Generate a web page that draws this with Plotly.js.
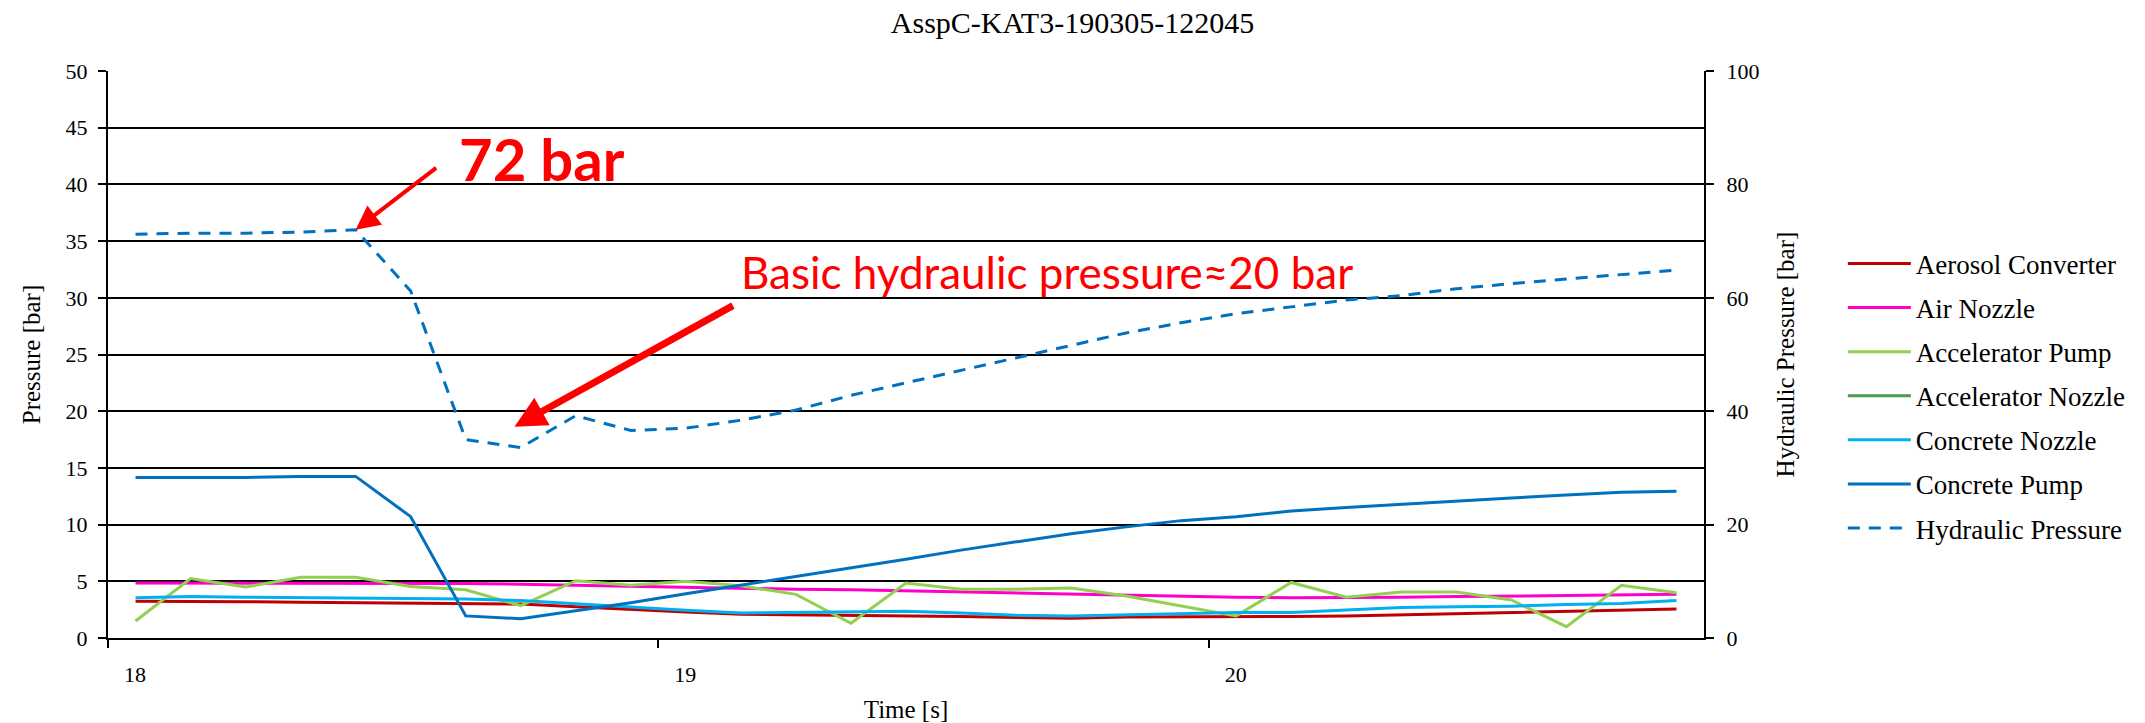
<!DOCTYPE html>
<html>
<head>
<meta charset="utf-8">
<script src="https://cdn.plot.ly/plotly-3.0.1.min.js"></script>
<style>
  html, body { margin: 0; padding: 0; background: #ffffff; }
  #chart { width: 2145px; height: 723px; }
</style>
</head>
<body>
<div id="chart"></div>
<script>
// Sample times [s]
const time = [18.0, 18.1, 18.2, 18.3, 18.4, 18.5, 18.6, 18.7, 18.8, 18.9,
              19.0, 19.1, 19.2, 19.3, 19.4, 19.5, 19.6, 19.7, 19.8, 19.9,
              20.0, 20.1, 20.2, 20.3, 20.4, 20.5, 20.6, 20.7, 20.8];

// Pressures on the left axis [bar]
const aerosolConverter = [3.25, 3.25, 3.2, 3.15, 3.1, 3.05, 3.0, 3.0, 2.75, 2.5,
                          2.3, 2.1, 2.05, 2.05, 2.0, 1.9, 1.8, 1.75, 1.85, 1.85,
                          1.85, 1.9, 1.95, 2.05, 2.15, 2.25, 2.35, 2.45, 2.55];
const airNozzle = [4.85, 4.85, 4.85, 4.85, 4.85, 4.8, 4.8, 4.75, 4.65, 4.55,
                   4.45, 4.4, 4.3, 4.25, 4.15, 4.05, 3.95, 3.85, 3.8, 3.7,
                   3.6, 3.55, 3.55, 3.6, 3.65, 3.7, 3.75, 3.8, 3.85];
const acceleratorPump = [1.5, 5.25, 4.5, 5.35, 5.35, 4.55, 4.25, 2.85, 5.05, 4.65,
                         5.0, 4.6, 3.85, 1.3, 4.85, 4.3, 4.3, 4.4, 3.7, 2.8,
                         1.95, 4.9, 3.6, 4.05, 4.05, 3.35, 1.0, 4.65, 4.0];
// No readings were logged for the accelerator nozzle in this run
const acceleratorNozzle = [null, null, null, null, null, null, null, null, null, null,
                           null, null, null, null, null, null, null, null, null, null,
                           null, null, null, null, null, null, null, null, null];
const concreteNozzle = [3.55, 3.65, 3.6, 3.55, 3.5, 3.45, 3.45, 3.3, 3.0, 2.7,
                        2.45, 2.2, 2.25, 2.3, 2.35, 2.2, 2.0, 1.95, 2.05, 2.2,
                        2.25, 2.25, 2.5, 2.7, 2.75, 2.8, 2.95, 3.05, 3.3];
const concretePump = [14.15, 14.15, 14.15, 14.25, 14.25, 10.7, 1.95, 1.7, 2.4, 3.1,
                      3.9, 4.65, 5.4, 6.15, 6.95, 7.75, 8.5, 9.2, 9.8, 10.35,
                      10.7, 11.2, 11.5, 11.8, 12.05, 12.35, 12.6, 12.85, 12.95];

// Hydraulic pressure on the right axis [bar]
const hydraulicPressure = [71.2, 71.4, 71.4, 71.6, 72, 61.2, 35.0, 33.6, 39.2, 36.6,
                           37.0, 38.4, 40.2, 42.8, 45.0, 47.2, 49.4, 51.6, 53.8, 55.6,
                           57.2, 58.4, 59.6, 60.4, 61.6, 62.5, 63.3, 64.0, 64.9];

// Axis tick labels (shown centred on the sample next to each tick mark)
const timeTickText = ['18', '19', '20'];
const timeTickMarks = [17.95, 18.95, 19.95];

// Callouts
const peakTime = 18.4;
const peakPressure = 72;
const basicPressure = 20;

const serif = 'Liberation Serif, Times New Roman, serif';
const sans = 'Lato, Open Sans, sans-serif';

function series(name, y, color, extra) {
  return Object.assign({
    type: 'scatter', mode: 'lines', name: name, x: time, y: y,
    legendgroup: name,
    line: { color: color, width: 3 },
    hoverinfo: 'x+y+name'
  }, extra || {});
}

const traces = [
  series('Aerosol Converter', aerosolConverter, '#C00000'),
  series('Air Nozzle', airNozzle, '#FF00CC'),
  series('Accelerator Pump', acceleratorPump, '#92D050'),
  series('Accelerator Nozzle', acceleratorNozzle, '#4C9A4C'),
  series('Concrete Nozzle', concreteNozzle, '#00B0F0'),
  series('Concrete Pump', concretePump, '#0070C0'),
  series('Hydraulic Pressure', hydraulicPressure, '#0070C0', {
    yaxis: 'y2',
    line: { color: '#0070C0', width: 3, dash: '12px,9px' }
  })
];

const legendKeyLength = 63;

const layout = {
  width: 2145,
  height: 723,
  paper_bgcolor: '#ffffff',
  plot_bgcolor: '#ffffff',
  margin: { l: 108, r: 441, t: 71, b: 85, pad: 0 },
  font: { family: serif, size: 22, color: '#000000' },
  title: {
    text: 'AsspC-KAT3-190305-122045',
    font: { family: serif, size: 30, color: '#000000' },
    x: 0.5, xref: 'container', xanchor: 'center',
    y: 1 - 22 / 723, yref: 'container', yanchor: 'middle'
  },
  xaxis: {
    range: [17.95, 20.85],
    tickvals: timeTickMarks,
    ticktext: timeTickText,
    ticklabelshift: 27,
    ticklabelstandoff: 8,
    ticks: 'outside', ticklen: 8, tickwidth: 2, tickcolor: '#000000',
    showline: true, linecolor: '#000000', linewidth: 2,
    showgrid: false, zeroline: false,
    tickfont: { family: serif, size: 22, color: '#000000' },
    title: { text: 'Time [s]', font: { family: serif, size: 25, color: '#000000' }, standoff: 14 },
    automargin: false
  },
  yaxis: {
    range: [0, 50],
    dtick: 5,
    ticks: 'outside', ticklen: 8, tickwidth: 2, tickcolor: '#000000',
    ticklabelstandoff: 6,
    showline: true, linecolor: '#000000', linewidth: 2,
    showgrid: true, gridcolor: '#000000', gridwidth: 2,
    zeroline: false,
    tickfont: { family: serif, size: 22, color: '#000000' },
    title: { text: 'Pressure [bar]', font: { family: serif, size: 25, color: '#000000' }, standoff: 18 },
    automargin: false
  },
  yaxis2: {
    range: [0, 100],
    dtick: 20,
    overlaying: 'y',
    side: 'right',
    ticks: 'outside', ticklen: 8, tickwidth: 2, tickcolor: '#000000',
    ticklabelstandoff: 8,
    showline: true, linecolor: '#000000', linewidth: 2,
    showgrid: false, zeroline: false,
    tickfont: { family: serif, size: 22, color: '#000000' },
    title: { text: 'Hydraulic Pressure [bar]', font: { family: serif, size: 25, color: '#000000' }, standoff: 18 },
    automargin: false
  },
  showlegend: true,
  legend: {
    x: 1.087, xanchor: 'left',
    y: 0.703, yanchor: 'top',
    bgcolor: 'rgba(0,0,0,0)',
    font: { family: serif, size: 27, color: '#000000' },
    traceorder: 'grouped',
    tracegroupgap: 6,
    itemwidth: legendKeyLength
  },
  annotations: [
    {
      text: '<b>' + peakPressure + ' bar</b>',
      xref: 'paper', yref: 'paper', x: 0.2722, y: 0.845,
      xanchor: 'center', yanchor: 'middle', showarrow: false,
      font: { family: sans, size: 58, color: '#FF0000' }
    },
    {
      text: '', xref: 'x', yref: 'y2', x: peakTime, y: peakPressure,
      showarrow: true, arrowhead: 2, arrowsize: 1.2, arrowwidth: 4,
      arrowcolor: '#FF0000', standoff: 0, ax: 82, ay: -63
    },
    {
      text: 'Basic hydraulic pressure\u2248' + basicPressure + ' bar',
      xref: 'paper', yref: 'paper', x: 0.5885, y: 0.6458,
      xanchor: 'center', yanchor: 'middle', showarrow: false,
      font: { family: sans, size: 44, color: '#FF0000' }
    },
    {
      text: '', xref: 'x', yref: 'y', x: 18.6885, y: 18.63,
      showarrow: true, arrowhead: 2, arrowsize: 0.9, arrowwidth: 7,
      arrowcolor: '#FF0000', standoff: 0, ax: 220, ay: -122
    }
  ]
};

Plotly.newPlot('chart', traces, layout, { displayModeBar: false, staticPlot: true })
  .then(function (gd) {
    // Stretch the legend key lines across the wider key area
    gd.querySelectorAll('.legend .legendlines path').forEach(function (p) {
      p.setAttribute('d', 'M5,0h' + legendKeyLength);
    });
  });
</script>
</body>
</html>
